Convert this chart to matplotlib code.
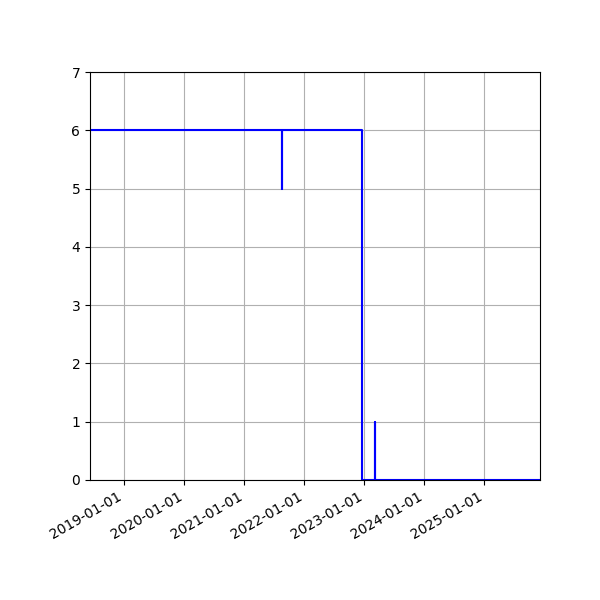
import pandas as pd
import matplotlib
matplotlib.use("Agg")
import matplotlib.pyplot as plt
import matplotlib.dates as mdates

# change points of the series (steps-post)
dates = ["2018-06-06", "2021-08-19", "2021-08-20", "2022-12-17",
         "2023-03-06", "2023-03-07", "2025-12-05"]
values = [6, 5, 6, 0, 1, 0, 0]

df = pd.DataFrame({"Date": pd.to_datetime(dates), "Value": values})

fig, ax = plt.subplots(figsize=(6, 6), dpi=100)
ax.plot(df["Date"], df["Value"], color="blue", drawstyle="steps-post")
ax.set_xlim(df["Date"].iloc[0], df["Date"].iloc[-1])
ax.set_ylim(0, 7)
ax.xaxis.set_major_locator(mdates.YearLocator())
ax.xaxis.set_major_formatter(mdates.DateFormatter("%Y-%m-%d"))
ax.grid(True)
fig.autofmt_xdate()
fig.subplots_adjust(left=0.15, right=0.9, top=0.88, bottom=0.2)

plt.savefig("out.png")
